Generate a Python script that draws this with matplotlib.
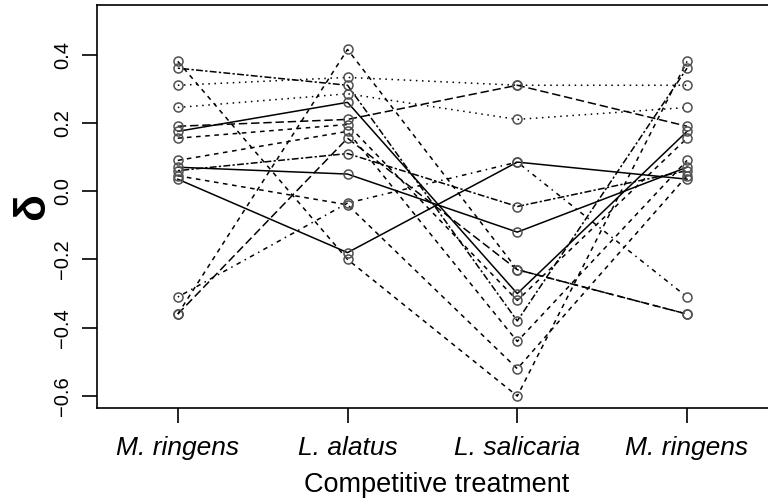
import numpy as np
import matplotlib.pyplot as plt

plt.rcParams['font.family'] = ['Liberation Sans', 'DejaVu Sans']

# treatment labels (M. ringens repeated at the end)
categories = ['M. ringens', 'L. alatus', 'L. salicaria', 'M. ringens']

# delta values per individual, one entry per line
m_ringens = [-0.36, -0.36, -0.31, 0.035, 0.07, 0.175, 0.38, 0.36, 0.31, 0.245, 0.19, 0.155, 0.09, 0.06, 0.045]
l_alatus = [0.415, 0.155, -0.035, -0.18, 0.05, 0.26, -0.20, 0.31, 0.333, 0.285, 0.21, 0.195, 0.175, 0.11, -0.04]
l_salicaria = [-0.23, -0.23, 0.085, 0.085, -0.12, -0.30, -0.60, -0.38, 0.31, 0.21, 0.31, -0.32, -0.44, -0.045, -0.52]
m_ringens2 = list(m_ringens)

# line types (R style lty)
ltys = ['dashed', 'longdash', 'dotdash', 'solid', 'solid', 'solid', 'dashed', 'twodash',
        'dotted', 'dotted', 'longdash', 'dashed', 'dashed', 'twodash', 'dashed']
styles = {
    'solid': '-',
    'dashed': (0, (3, 3)),
    'dotted': (0, (1, 3)),
    'dotdash': (0, (1, 3, 3, 3)),
    'longdash': (0, (5.5, 2.5)),
    'twodash': (0, (1.5, 1.5, 4.5, 1.5)),
}

fig = plt.figure(figsize=(7.68, 5.04), dpi=100)
ax = fig.add_axes([97/768, 1 - 408/504, 680/768, 403/504])

x = np.arange(1, 5)
for i in range(len(m_ringens)):
    y = [m_ringens[i], l_alatus[i], l_salicaria[i], m_ringens2[i]]
    ax.plot(x, y, color='black', lw=1.1, linestyle=styles[ltys[i]], zorder=2)
    ax.plot(x, y, linestyle='none', marker='o', ms=6.5, mfc='none', mec='#505050', mew=1.1, zorder=3)

ax.set_xlim(0.524, 4.53)
ax.set_ylim(-0.635, 0.545)
ax.spines['right'].set_visible(False)
for s in ax.spines.values():
    s.set_linewidth(1.2)

ax.set_xticks(x)
ax.set_xticklabels(categories, fontsize=19, style='italic')
ax.set_yticks([-0.6, -0.4, -0.2, 0.0, 0.2, 0.4])
ax.set_yticklabels(['\u22120.6', '\u22120.4', '\u22120.2', '0.0', '0.2', '0.4'], fontsize=14.5, rotation=90, va='center')
ax.tick_params(axis='x', length=11, width=1.2, pad=9)
ax.tick_params(axis='y', length=11, width=1.2, pad=7)

ax.set_xlabel('Competitive treatment', fontsize=19.5, labelpad=9)
ax.set_ylabel('\u03b4', fontsize=32, fontweight='bold', labelpad=0)

fig.savefig('out.png', dpi=100)
